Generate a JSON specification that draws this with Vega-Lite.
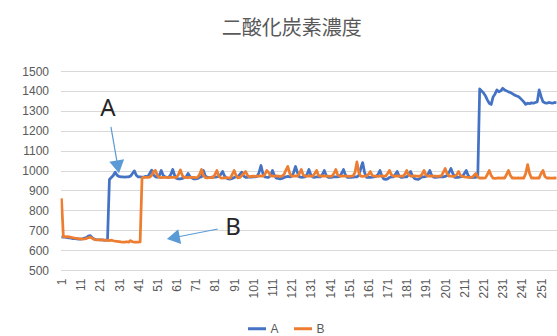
{
 "$schema": "https://vega.github.io/schema/vega-lite/v6.json",
 "width": 496.5, "height": 199,
 "autosize": {"type": "none"},
 "padding": {"left": 60.5, "top": 71, "right": 0, "bottom": 66},
 "background": "white",
 "config": {"view": {"stroke": null}, "font": "Liberation Sans"},
 "title": {"text": "二酸化炭素濃度", "font": "Noto Sans CJK JP", "fontSize": 20, "fontWeight": "normal", "color": "#595959", "anchor": "middle", "dx": -17, "offset": 26},
 "data": {"values": [
{"i":1,"A":666,"B":860},{"i":2,"A":665,"B":668},{"i":3,"A":665,"B":667},{"i":4,"A":663,"B":668},{"i":5,"A":662,"B":666},
{"i":6,"A":660,"B":664},{"i":7,"A":658,"B":662},{"i":8,"A":657,"B":660},{"i":9,"A":656,"B":659},{"i":10,"A":655,"B":657},
{"i":11,"A":655,"B":656},{"i":12,"A":657,"B":655},{"i":13,"A":660,"B":656},{"i":14,"A":663,"B":658},{"i":15,"A":670,"B":662},
{"i":16,"A":673,"B":665},{"i":17,"A":662,"B":660},{"i":18,"A":656,"B":654},{"i":19,"A":653,"B":652},{"i":20,"A":652,"B":652},
{"i":21,"A":651,"B":651},{"i":22,"A":651,"B":652},{"i":23,"A":650,"B":650},{"i":24,"A":650,"B":649},{"i":25,"A":650,"B":650},
{"i":26,"A":955,"B":648},{"i":27,"A":965,"B":650},{"i":28,"A":975,"B":647},{"i":29,"A":992,"B":645},{"i":30,"A":976,"B":644},
{"i":31,"A":970,"B":643},{"i":32,"A":968,"B":641},{"i":33,"A":968,"B":640},{"i":34,"A":967,"B":640},{"i":35,"A":968,"B":642},
{"i":36,"A":968,"B":640},{"i":37,"A":972,"B":648},{"i":38,"A":985,"B":642},{"i":39,"A":998,"B":640},{"i":40,"A":976,"B":640},
{"i":41,"A":968,"B":640},{"i":42,"A":968,"B":641},{"i":43,"A":967,"B":962},{"i":44,"A":968,"B":966},{"i":45,"A":970,"B":965},
{"i":46,"A":969,"B":966},{"i":47,"A":985,"B":967},{"i":48,"A":1002,"B":975},{"i":49,"A":978,"B":995},{"i":50,"A":968,"B":1000},
{"i":51,"A":966,"B":975},{"i":52,"A":975,"B":965},{"i":53,"A":1000,"B":964},{"i":54,"A":976,"B":965},{"i":55,"A":968,"B":966},
{"i":56,"A":966,"B":965},{"i":57,"A":967,"B":964},{"i":58,"A":980,"B":965},{"i":59,"A":1005,"B":966},{"i":60,"A":975,"B":965},
{"i":61,"A":960,"B":966},{"i":62,"A":958,"B":980},{"i":63,"A":958,"B":1003},{"i":64,"A":960,"B":975},{"i":65,"A":965,"B":964},
{"i":66,"A":968,"B":965},{"i":67,"A":985,"B":964},{"i":68,"A":970,"B":965},{"i":69,"A":962,"B":966},{"i":70,"A":958,"B":965},
{"i":71,"A":958,"B":964},{"i":72,"A":960,"B":966},{"i":73,"A":966,"B":980},{"i":74,"A":968,"B":1005},{"i":75,"A":1000,"B":975},
{"i":76,"A":972,"B":964},{"i":77,"A":966,"B":963},{"i":78,"A":965,"B":964},{"i":79,"A":966,"B":965},{"i":80,"A":968,"B":964},
{"i":81,"A":967,"B":980},{"i":82,"A":968,"B":1000},{"i":83,"A":970,"B":972},{"i":84,"A":980,"B":963},{"i":85,"A":995,"B":962},
{"i":86,"A":972,"B":963},{"i":87,"A":962,"B":964},{"i":88,"A":958,"B":963},{"i":89,"A":957,"B":962},{"i":90,"A":960,"B":980},
{"i":91,"A":965,"B":1000},{"i":92,"A":968,"B":975},{"i":93,"A":970,"B":963},{"i":94,"A":980,"B":965},{"i":95,"A":992,"B":975},
{"i":96,"A":972,"B":985},{"i":97,"A":966,"B":995},{"i":98,"A":966,"B":975},{"i":99,"A":968,"B":968},{"i":100,"A":967,"B":970},
{"i":101,"A":968,"B":972},{"i":102,"A":968,"B":971},{"i":103,"A":970,"B":972},{"i":104,"A":990,"B":972},{"i":105,"A":1025,"B":973},
{"i":106,"A":985,"B":972},{"i":107,"A":968,"B":980},{"i":108,"A":966,"B":1000},{"i":109,"A":966,"B":990},{"i":110,"A":975,"B":973},
{"i":111,"A":1000,"B":972},{"i":112,"A":975,"B":972},{"i":113,"A":962,"B":973},{"i":114,"A":960,"B":972},{"i":115,"A":958,"B":971},
{"i":116,"A":960,"B":972},{"i":117,"A":965,"B":980},{"i":118,"A":968,"B":1002},{"i":119,"A":970,"B":1020},{"i":120,"A":968,"B":985},
{"i":121,"A":970,"B":972},{"i":122,"A":990,"B":972},{"i":123,"A":1020,"B":973},{"i":124,"A":990,"B":972},{"i":125,"A":968,"B":985},
{"i":126,"A":966,"B":1005},{"i":127,"A":967,"B":978},{"i":128,"A":968,"B":972},{"i":129,"A":980,"B":972},{"i":130,"A":1005,"B":973},
{"i":131,"A":978,"B":972},{"i":132,"A":967,"B":972},{"i":133,"A":966,"B":985},{"i":134,"A":968,"B":1000},{"i":135,"A":968,"B":975},
{"i":136,"A":968,"B":972},{"i":137,"A":980,"B":973},{"i":138,"A":1000,"B":972},{"i":139,"A":975,"B":972},{"i":140,"A":966,"B":972},
{"i":141,"A":965,"B":971},{"i":142,"A":966,"B":972},{"i":143,"A":968,"B":985},{"i":144,"A":968,"B":1005},{"i":145,"A":968,"B":978},
{"i":146,"A":970,"B":972},{"i":147,"A":985,"B":972},{"i":148,"A":1005,"B":973},{"i":149,"A":978,"B":972},{"i":150,"A":966,"B":972},
{"i":151,"A":965,"B":971},{"i":152,"A":966,"B":972},{"i":153,"A":967,"B":973},{"i":154,"A":968,"B":990},{"i":155,"A":968,"B":1043},
{"i":156,"A":975,"B":990},{"i":157,"A":1010,"B":972},{"i":158,"A":1040,"B":970},{"i":159,"A":990,"B":972},{"i":160,"A":966,"B":973},
{"i":161,"A":965,"B":980},{"i":162,"A":966,"B":995},{"i":163,"A":967,"B":975},{"i":164,"A":968,"B":972},{"i":165,"A":970,"B":972},
{"i":166,"A":980,"B":971},{"i":167,"A":1000,"B":972},{"i":168,"A":972,"B":973},{"i":169,"A":958,"B":972},{"i":170,"A":955,"B":972},
{"i":171,"A":958,"B":985},{"i":172,"A":965,"B":1000},{"i":173,"A":968,"B":978},{"i":174,"A":968,"B":972},{"i":175,"A":980,"B":972},
{"i":176,"A":995,"B":973},{"i":177,"A":972,"B":972},{"i":178,"A":966,"B":972},{"i":179,"A":966,"B":971},{"i":180,"A":968,"B":982},
{"i":181,"A":968,"B":1000},{"i":182,"A":980,"B":978},{"i":183,"A":995,"B":972},{"i":184,"A":972,"B":972},{"i":185,"A":960,"B":973},
{"i":186,"A":956,"B":972},{"i":187,"A":955,"B":972},{"i":188,"A":962,"B":971},{"i":189,"A":968,"B":982},{"i":190,"A":968,"B":1000},
{"i":191,"A":970,"B":978},{"i":192,"A":980,"B":972},{"i":193,"A":1000,"B":972},{"i":194,"A":975,"B":973},{"i":195,"A":967,"B":972},
{"i":196,"A":966,"B":972},{"i":197,"A":967,"B":971},{"i":198,"A":968,"B":972},{"i":199,"A":968,"B":973},{"i":200,"A":968,"B":990},
{"i":201,"A":970,"B":1010},{"i":202,"A":975,"B":985},{"i":203,"A":990,"B":972},{"i":204,"A":1010,"B":972},{"i":205,"A":985,"B":971},
{"i":206,"A":966,"B":972},{"i":207,"A":965,"B":978},{"i":208,"A":966,"B":995},{"i":209,"A":968,"B":975},{"i":210,"A":970,"B":970},
{"i":211,"A":985,"B":968},{"i":212,"A":1000,"B":967},{"i":213,"A":975,"B":966},{"i":214,"A":965,"B":965},{"i":215,"A":964,"B":966},
{"i":216,"A":965,"B":975},{"i":217,"A":966,"B":985},{"i":218,"A":968,"B":968},{"i":219,"A":1410,"B":962},{"i":220,"A":1400,"B":963},
{"i":221,"A":1390,"B":962},{"i":222,"A":1375,"B":963},{"i":223,"A":1355,"B":980},{"i":224,"A":1338,"B":1000},{"i":225,"A":1332,"B":975},
{"i":226,"A":1370,"B":962},{"i":227,"A":1385,"B":961},{"i":228,"A":1405,"B":962},{"i":229,"A":1395,"B":963},{"i":230,"A":1400,"B":962},
{"i":231,"A":1413,"B":963},{"i":232,"A":1405,"B":962},{"i":233,"A":1400,"B":980},{"i":234,"A":1395,"B":1000},{"i":235,"A":1392,"B":975},
{"i":236,"A":1386,"B":962},{"i":237,"A":1380,"B":963},{"i":238,"A":1376,"B":962},{"i":239,"A":1372,"B":963},{"i":240,"A":1365,"B":962},
{"i":241,"A":1355,"B":963},{"i":242,"A":1345,"B":962},{"i":243,"A":1332,"B":985},{"i":244,"A":1338,"B":1030},{"i":245,"A":1336,"B":985},
{"i":246,"A":1340,"B":962},{"i":247,"A":1338,"B":963},{"i":248,"A":1342,"B":962},{"i":249,"A":1345,"B":963},{"i":250,"A":1405,"B":962},
{"i":251,"A":1372,"B":985},{"i":252,"A":1345,"B":1000},{"i":253,"A":1340,"B":970},{"i":254,"A":1338,"B":962},{"i":255,"A":1342,"B":963},
{"i":256,"A":1340,"B":962},{"i":257,"A":1338,"B":962},{"i":258,"A":1342,"B":963},{"i":259,"A":1340,"B":962}
 ]},
 "encoding": {
  "x": {"field": "i", "type": "quantitative",
        "scale": {"domain": [0.5, 259.3], "nice": false, "zero": false},
        "axis": {"title": null, "values": [1,11,21,31,41,51,61,71,81,91,101,111,121,131,141,151,161,171,181,191,201,211,221,231,241,251],
                 "format": "d", "labelAngle": -90, "labelFontSize": 12, "labelColor": "#595959", "labelPadding": 8, "ticks": false,
                 "domainColor": "#D9D9D9", "grid": false, "labelFont": "Liberation Sans", "labelBound": false, "labelOverlap": false, "labelFlush": false}},
  "y": {"field": "co2", "type": "quantitative",
        "scale": {"domain": [500, 1500], "nice": false, "zero": false},
        "axis": {"title": null, "values": [500,600,700,800,900,1000,1100,1200,1300,1400,1500], "format": "d", "labelFontSize": 12,
                 "labelColor": "#595959", "labelPadding": 12, "ticks": false, "domain": false, "labelOverlap": false,
                 "grid": true, "gridColor": "#D9D9D9", "gridWidth": 1, "labelFont": "Liberation Sans"}}
 },
 "layer": [
  {
   "transform": [{"fold": ["A", "B"], "as": ["series", "co2"]}],
   "mark": {"type": "line", "strokeWidth": 2.75, "clip": true, "strokeJoin": "round"},
   "encoding": {
    "color": {"field": "series", "type": "nominal",
              "scale": {"domain": ["A", "B"], "range": ["#4472C4", "#ED7D31"]},
              "legend": {"orient": "none", "legendX": 186, "legendY": 247, "direction": "horizontal", "title": null,
                         "symbolType": "stroke", "symbolSize": 324, "symbolStrokeWidth": 3, "labelFontSize": 12,
                         "labelColor": "#595959", "labelOffset": 3, "columnPadding": 8, "labelFont": "Liberation Sans"}}
   }
  },
  {
   "data": {"values": [{"label": "A", "i": 25.2, "co2": 1309}, {"label": "B", "i": 90.5, "co2": 710}]},
   "mark": {"type": "text", "fontSize": 24, "font": "Noto Sans", "color": "#262626", "align": "center", "baseline": "middle"},
   "encoding": {"text": {"field": "label"}}
  },
  {
   "data": {"values": [{"i": 26.8, "co2": 1219, "i2": 30.4, "co22": 1018}, {"i": 82.5, "co2": 706, "i2": 59.3, "co22": 662}]},
   "mark": {"type": "rule", "color": "#5B9BD5", "strokeWidth": 1.2},
   "encoding": {"x2": {"field": "i2"}, "y2": {"field": "co22"}}
  },
  {
   "data": {"values": [{"i": 30.4, "co2": 1018}]},
   "mark": {"type": "point", "shape": "triangle-up", "angle": 170, "size": 225, "filled": true, "color": "#5B9BD5", "opacity": 1},
   "encoding": {}
  },
  {
   "data": {"values": [{"i": 59.3, "co2": 662}]},
   "mark": {"type": "point", "shape": "triangle-up", "angle": 259, "size": 225, "filled": true, "color": "#5B9BD5", "opacity": 1},
   "encoding": {}
  }
 ]
}
